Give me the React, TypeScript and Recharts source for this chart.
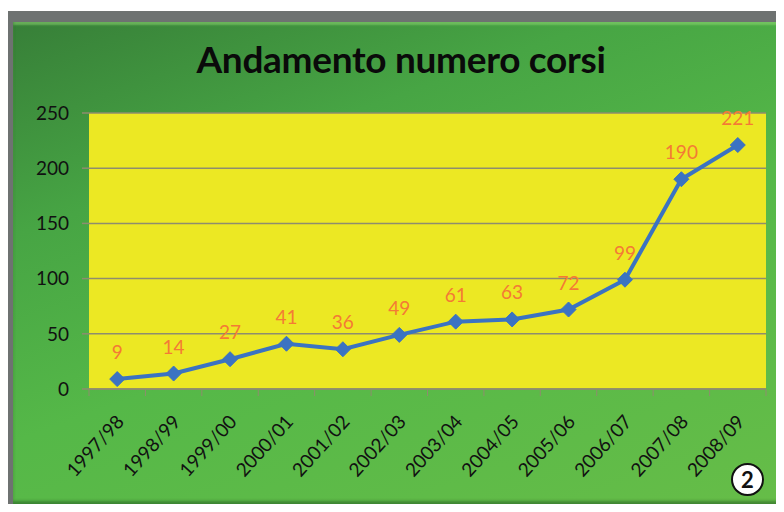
import { CartesianGrid, LabelList, Line, LineChart, XAxis, YAxis } from "recharts";

const anni = [
  "1997/98",
  "1998/99",
  "1999/00",
  "2000/01",
  "2001/02",
  "2002/03",
  "2003/04",
  "2004/05",
  "2005/06",
  "2006/07",
  "2007/08",
  "2008/09",
];
const corsi = [9, 14, 27, 41, 36, 49, 61, 63, 72, 99, 190, 221];
const yTicks = [0, 50, 100, 150, 200, 250];

const FONT = "Lato, 'Open Sans', sans-serif";
const GRID = "#8e8d6e";

const data = anni.map((anno, i) => ({ anno, corsi: corsi[i] }));

function AnnoTick(props: any) {
  const { x, y, payload, index, visibleTicksCount } = props;
  const half = payload?.offset || 28.2;
  const isLast = index === visibleTicksCount - 1;
  return (
    <g>
      <line x1={x - half} y1={y} x2={x - half} y2={y + 7} stroke={GRID} strokeWidth={1} />
      {isLast && <line x1={x + half} y1={y} x2={x + half} y2={y + 7} stroke={GRID} strokeWidth={1} />}
      <g transform={`translate(${x + 3},${y + 29})`}>
        <text x={0} y={0} dy="0.35em" textAnchor="end" transform="rotate(-48)" fill="#111" fontSize={19} fontFamily={FONT}>
          {payload.value}
        </text>
      </g>
    </g>
  );
}

function Diamond(props: any) {
  const { cx, cy } = props;
  if (cx == null || cy == null) return null;
  const r = 7.5;
  return (
    <polygon
      points={`${cx},${cy - r} ${cx + r},${cy} ${cx},${cy + r} ${cx - r},${cy}`}
      fill="#3b73c2"
      stroke="#3b73c2"
    />
  );
}

export default function App() {
  return (
    <div style={{ position: "relative", margin: -8, width: 784, height: 512, background: "#fff", overflow: "hidden" }}>
      <div style={{ position: "absolute", left: 6, top: 11, width: 778, height: 501, background: "#6e7271" }} />
      <div
        style={{
          position: "absolute",
          left: 13,
          top: 22,
          width: 771,
          height: 483,
          background: "linear-gradient(160deg, #377f38 0%, #47a544 28%, #55b848 55%, #66bd48 100%)",
          boxShadow: "inset 0 -4px 3px rgba(30,80,30,0.5), inset 0 3px 2px rgba(150,220,120,0.5)",
        }}
      />
      <div
        style={{
          position: "absolute",
          left: 0,
          top: 36,
          width: 802,
          textAlign: "center",
          fontFamily: FONT,
          fontWeight: 700,
          fontSize: 37,
          color: "#0a0a0a",
          letterSpacing: -0.3,
        }}
      >
        Andamento numero corsi
      </div>
      <div style={{ position: "absolute", left: 0, top: 0 }}>
        <LineChart width={784} height={512} data={data} margin={{ top: 113, right: 18, bottom: 33, left: 0 }}>
          <CartesianGrid vertical={false} horizontal stroke={GRID} strokeWidth={1.5} fill="#ece823" fillOpacity={1} />
          <XAxis
            dataKey="anno"
            scale="band"
            height={90}
            axisLine={{ stroke: GRID, strokeWidth: 1.5 }}
            tickLine={false}
            tickSize={0}
            tickMargin={0}
            interval={0}
            tick={<AnnoTick />}
          />
          <YAxis
            width={89}
            domain={[0, 250]}
            ticks={yTicks}
            axisLine={false}
            tickLine={{ stroke: GRID, strokeWidth: 1.5 }}
            tickSize={7}
            tickMargin={13}
            tick={{ fill: "#111", fontSize: 19, fontFamily: FONT }}
          />
          <Line
            dataKey="corsi"
            type="linear"
            stroke="#3b73c2"
            strokeWidth={4}
            dot={<Diamond />}
            activeDot={false}
            isAnimationActive={false}
          >
            <LabelList dataKey="corsi" position="top" offset={20} fill="#f47a35" fontSize={19} fontFamily={FONT} />
          </Line>
        </LineChart>
      </div>
      <div
        style={{
          position: "absolute",
          left: 731,
          top: 463,
          width: 29,
          height: 29,
          borderRadius: "50%",
          background: "#fff",
          border: "2px solid #111",
          display: "flex",
          alignItems: "center",
          justifyContent: "center",
          fontFamily: FONT,
          fontWeight: 700,
          fontSize: 22,
          color: "#111",
        }}
      >
        2
      </div>
    </div>
  );
}
